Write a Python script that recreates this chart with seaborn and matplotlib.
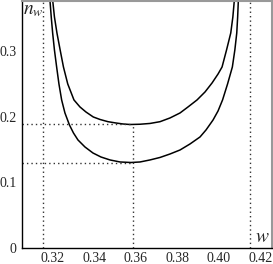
import matplotlib
matplotlib.use("Agg")
import matplotlib.pyplot as plt
import seaborn as sns
import pandas as pd
from matplotlib.ticker import MultipleLocator

# values
w_upper = [0.31986, 0.32072, 0.32193, 0.32347, 0.32506, 0.32713, 0.33012, 0.33301,
           0.33590, 0.33942, 0.34265, 0.34651, 0.35036, 0.35373, 0.35711, 0.36193,
           0.36675, 0.37157, 0.37639, 0.38120, 0.38506, 0.38940, 0.39325, 0.39663,
           0.39952, 0.40145, 0.40361, 0.40564, 0.40665, 0.40737]
n_upper = [0.3786, 0.3527, 0.3282, 0.3023, 0.2763, 0.2504, 0.2260, 0.2153,
           0.2076, 0.2000, 0.1962, 0.1928, 0.1908, 0.1893, 0.1885, 0.1889,
           0.1901, 0.1928, 0.1985, 0.2061, 0.2153, 0.2260, 0.2382, 0.2519,
           0.2656, 0.2763, 0.3023, 0.3282, 0.3527, 0.3786]

w_lower = [0.31855, 0.31918, 0.31986, 0.32072, 0.32178, 0.32289, 0.32419, 0.32578,
           0.32795, 0.32988, 0.33205, 0.33542, 0.33928, 0.34313, 0.34747, 0.35229,
           0.35759, 0.36193, 0.36675, 0.37157, 0.37639, 0.38120, 0.38602, 0.39084,
           0.39373, 0.39711, 0.39952, 0.40169, 0.40410, 0.40641, 0.40761, 0.40853,
           0.40896, 0.40930]
n_lower = [0.3786, 0.3527, 0.3282, 0.3023, 0.2763, 0.2504, 0.2260, 0.2061,
           0.1878, 0.1756, 0.1649, 0.1542, 0.1450, 0.1389, 0.1344, 0.1313,
           0.1305, 0.1313, 0.1344, 0.1382, 0.1435, 0.1496, 0.1588, 0.1695,
           0.1802, 0.1954, 0.2092, 0.2260, 0.2504, 0.2763, 0.3023, 0.3282,
           0.3527, 0.3786]

w_min = 0.3584
n_min_upper = 0.189
n_min_lower = 0.130
w_left = 0.3152
w_right = 0.4149

x_ticks = [0.32, 0.34, 0.36, 0.38, 0.40, 0.42]
x_labels = ["0.32", "0.34", "0.36", "0.38", "0.40", "0.42"]
y_ticks = [0, 0.1, 0.2, 0.3]
y_labels = ["0", "0.1", "0.2", "0.3"]

sns.set_style("white")
plt.rcParams["font.family"] = ["Liberation Serif", "DejaVu Serif"]
plt.rcParams["mathtext.fontset"] = "stix"

df_up = pd.DataFrame({"w": w_upper, "n": n_upper})
df_lo = pd.DataFrame({"w": w_lower, "n": n_lower})

fig = plt.figure(figsize=(2.73, 2.64), dpi=100)
ax = fig.add_axes([22 / 273, 16 / 264, 250 / 273, 247 / 264])

sns.lineplot(data=df_up, x="w", y="n", color="black", linewidth=1.1, estimator=None, ax=ax)
sns.lineplot(data=df_lo, x="w", y="n", color="black", linewidth=1.1, estimator=None, ax=ax)

dot = dict(color="#333333", linestyle=(0, (1, 2.2)), linewidth=1.0)
ax.axvline(w_left, **dot)
ax.axvline(w_right, **dot)
ax.plot([0.3051, w_min], [n_min_upper, n_min_upper], **dot)
ax.plot([0.3051, w_min], [n_min_lower, n_min_lower], **dot)
ax.plot([w_min, w_min], [0, n_min_upper], **dot)

ax.set_xlim(0.3051, 0.4255)
ax.set_ylim(0, 0.377)
ax.set_xticks(x_ticks)
ax.set_xticklabels(x_labels)
ax.set_yticks(y_ticks)
ax.set_yticklabels(y_labels)
ax.xaxis.set_minor_locator(MultipleLocator(0.01))
ax.yaxis.set_minor_locator(MultipleLocator(0.05))
ax.tick_params(which="both", direction="out", length=2, width=0.8, color="#888888",
               labelsize=10, pad=1)
ax.tick_params(axis="y", pad=2)
ax.set_xlabel("")
ax.set_ylabel("")

for s in ["left", "bottom"]:
    ax.spines[s].set_color("black")
    ax.spines[s].set_linewidth(1.0)
for s in ["top", "right"]:
    ax.spines[s].set_color("#999999")
    ax.spines[s].set_linewidth(1.5)

ax.text(0.004, 0.995, "$n_w$", transform=ax.transAxes, ha="left", va="top", fontsize=14)
ax.text(0.99, 0.01, "$w$", transform=ax.transAxes, ha="right", va="bottom", fontsize=14)

fig.savefig("out.png", dpi=100)
